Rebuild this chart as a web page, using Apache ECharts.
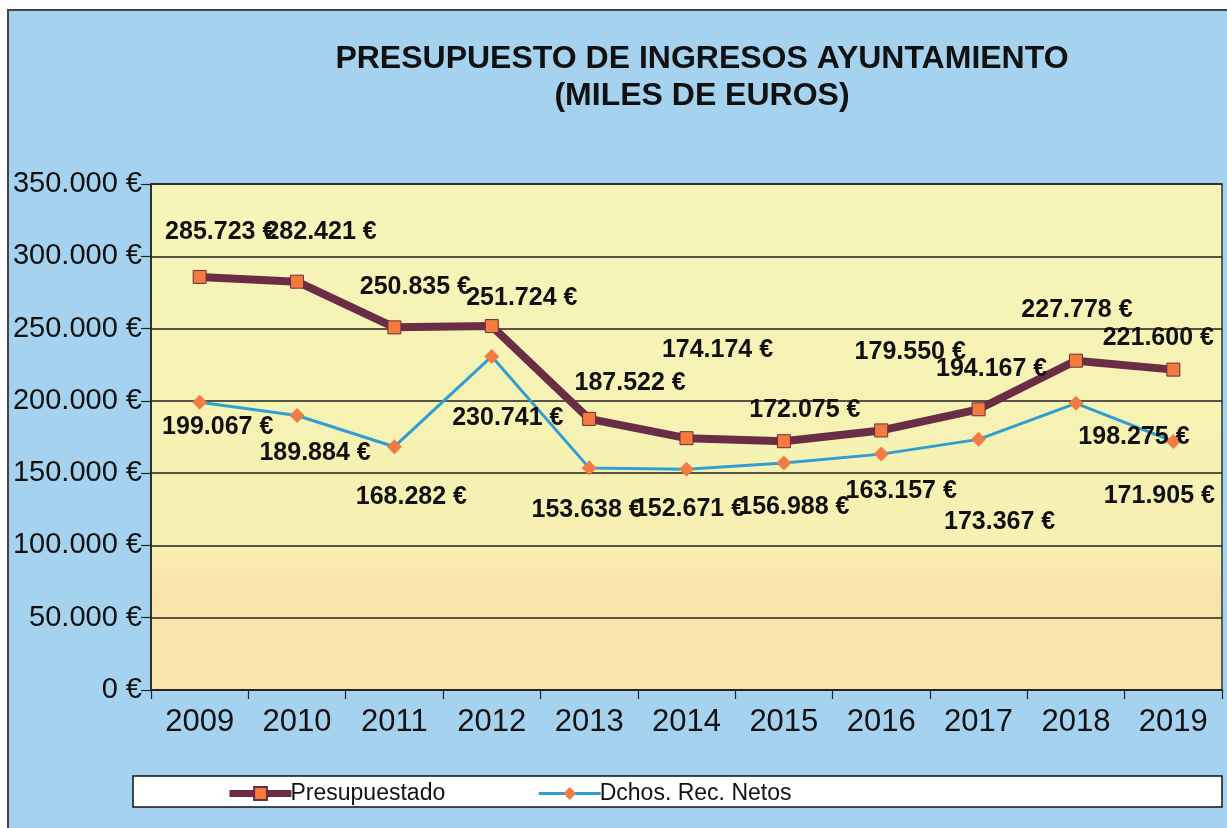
<!DOCTYPE html>
<html>
<head>
<meta charset="utf-8">
<script src="https://cdn.jsdelivr.net/npm/echarts@6/dist/echarts.min.js"></script>
<style>
html,body{margin:0;padding:0;background:#ffffff;}
#c{width:1227px;height:828px;}
</style>
</head>
<body>
<div id="c"></div>
<script>
// ---- data ----
const years = ['2009','2010','2011','2012','2013','2014','2015','2016','2017','2018','2019'];
const presupuestado = [285723, 282421, 250835, 251724, 187522, 174174, 172075, 179550, 194167, 227778, 221600];
const dchosRecNetos = [199067, 189884, 168282, 230741, 153638, 152671, 156988, 163157, 173367, 198275, 171905];
const seriesNames = ['Presupuestado', 'Dchos. Rec. Netos'];
const titleLines = ['PRESUPUESTO DE INGRESOS AYUNTAMIENTO', '(MILES DE EUROS)'];
const yMin = 0, yMax = 350000, yStep = 50000;

// ---- label layout (offsets from each point, in px) ----
const presLabelOffsets = [[21,-45],[24,-50],[21,-40],[30,-28],[41,-36],[31,-88],[21,-31],[29,-78],[13,-40],[1,-51],[-15,-32]];
const dchosLabelOffsets = [[18,25],[18,38],[17,50],[16,62],[-2,42],[3,40],[10,44],[20,37],[21,83],[58,34],[-14,55]];

function euro(v){
  const s = Math.round(v).toString().replace(/\B(?=(\d{3})+(?!\d))/g, '.');
  return s + ' €';
}

const chart = echarts.init(document.getElementById('c'), null, {renderer:'canvas'});

const FONT = 'Liberation Sans, Arial, sans-serif';
const labelBase = {
  show: true,
  position: 'inside',
  fontFamily: FONT,
  fontSize: 25,
  fontWeight: 'bold',
  color: '#111',
  formatter: p => euro(p.value)
};

const presColor = '#6a2d45', dchosColor = '#2f9ed2';

const option = {
  backgroundColor: '#ffffff',
  animation: false,
  textStyle: {fontFamily: FONT},
  graphic: [
    {type:'rect', z:-10, shape:{x:8, y:10, width:1240, height:840},
     style:{fill:'#a5d2ef', stroke:'#444', lineWidth:2}},
    {type:'rect', z:1, shape:{x:133, y:776, width:1089, height:31},
     style:{fill:'#ffffff', stroke:'#111', lineWidth:1.5}}
  ],
  title: {
    text: titleLines.join('\n'),
    left: 697,
    top: 36,
    textAlign: 'center',
    textStyle: {fontFamily:FONT, fontSize:32, fontWeight:'bold', color:'#111', lineHeight:37}
  },
  legend: {
    left: 221,
    top: 777,
    itemWidth: 62,
    itemHeight: 16,
    itemGap: 92,
    z: 5,
    textStyle: {fontFamily:FONT, fontSize:23, color:'#111', padding:[0,0,0,-6]},
    data: [
      {name: seriesNames[0], lineStyle:{width:7, color:presColor}},
      {name: seriesNames[1], lineStyle:{width:3, color:dchosColor}}
    ]
  },
  grid: {
    left: 151, right: 5, top: 184, bottom: 138,
    show: true,
    borderColor: '#333',
    borderWidth: 1.5,
    backgroundColor: new echarts.graphic.LinearGradient(0,0,0,1,[
      {offset:0, color:'#f6f4b8'},
      {offset:0.7, color:'#f6f1b2'},
      {offset:0.8, color:'#f8e4a8'},
      {offset:1, color:'#f8e6ac'}
    ])
  },
  xAxis: {
    type: 'category',
    data: years,
    boundaryGap: true,
    axisLine: {show:true, lineStyle:{color:'#222', width:1.5}},
    axisTick: {show:true, length:9, lineStyle:{color:'#222', width:1.2}},
    axisLabel: {fontSize:31, color:'#111', margin:17, fontFamily:FONT},
    splitLine: {show:false}
  },
  yAxis: {
    type: 'value',
    min: yMin, max: yMax, interval: yStep,
    axisLine: {show:true, lineStyle:{color:'#222', width:1.5}},
    axisTick: {show:true, length:10, lineStyle:{color:'#222', width:1.2}},
    axisLabel: {fontSize:29, color:'#111', margin:9, fontFamily:FONT, formatter: v => euro(v)},
    splitLine: {show:true, lineStyle:{color:'#222', width:1.5}}
  },
  series: [
    {
      name: seriesNames[0],
      type: 'line',
      z: 3,
      symbol: 'rect',
      symbolSize: 13,
      lineStyle: {color:presColor, width:8},
      itemStyle: {color:'#f47b3b', borderColor:presColor, borderWidth:1},
      label: labelBase,
      data: presupuestado.map((v,i)=>({value:v, label:{offset:presLabelOffsets[i]}}))
    },
    {
      name: seriesNames[1],
      type: 'line',
      z: 2,
      symbol: 'diamond',
      symbolSize: 15,
      lineStyle: {color:dchosColor, width:3},
      itemStyle: {color:'#f27a45', borderWidth:0},
      label: labelBase,
      data: dchosRecNetos.map((v,i)=>({value:v, label:{offset:dchosLabelOffsets[i]}}))
    }
  ]
};
chart.setOption(option);
</script>
</body>
</html>
